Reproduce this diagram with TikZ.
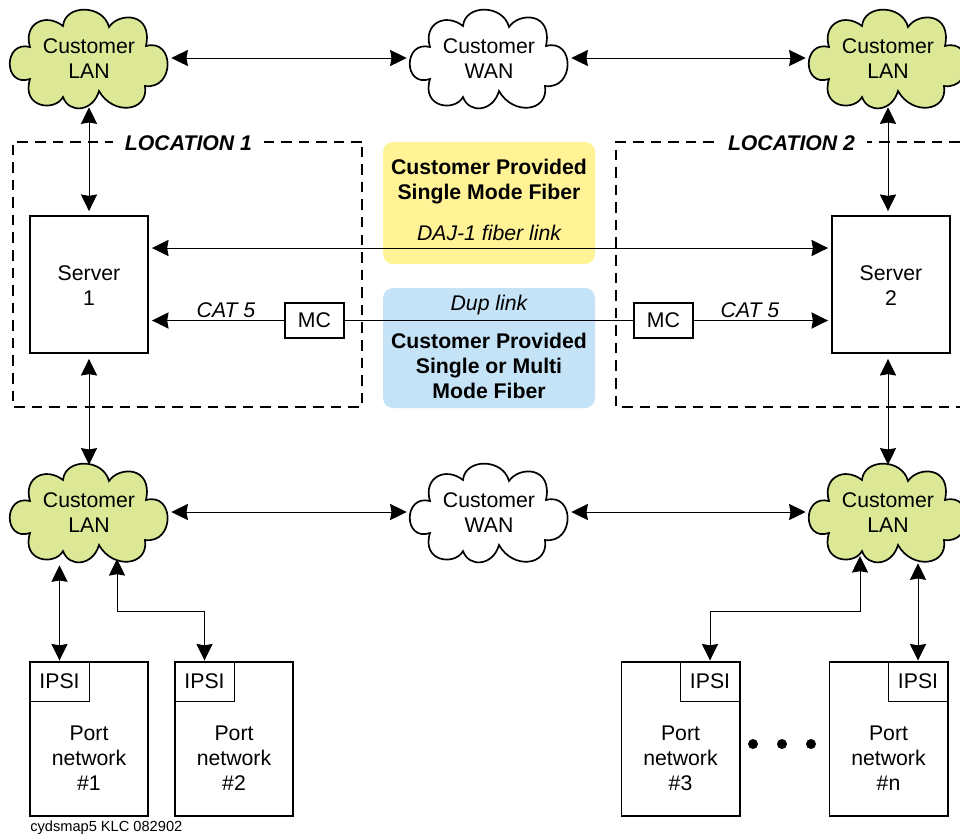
\documentclass[tikz,border=0pt]{standalone}
\usepackage{fontspec}
\setmainfont{Liberation Sans}
\usetikzlibrary{arrows.meta}
\definecolor{clan}{RGB}{220,232,150}
\definecolor{cyel}{RGB}{255,243,150}
\definecolor{cblu}{RGB}{197,227,247}
\newcommand*{\fsz}{\fontsize{15.1}{17.8}\selectfont}
\tikzset{
    >={Stealth[length=11.8pt, width=11.5pt, inset=1pt]},
    txt/.style={align=center, inner sep=0pt, font=\fsz},
    cloudbox/.style={txt, minimum width=4.1cm, minimum height=2.45cm},
    box/.style={txt, draw, line width=1.4pt, fill=white},
    srvbox/.style={box, minimum width=2.95cm, minimum height=3.425cm},
    mcbox/.style={box, minimum width=1.475cm, minimum height=.875cm},
    portbox/.style={box, minimum width=2.95cm, minimum height=3.85cm},
    ipsibox/.style={txt, draw, line width=.7pt, minimum width=1.475cm, minimum height=.975cm},
    fibbox/.style={rounded corners=.25cm},
    loc/.style={dash pattern=on 7.5pt off 5pt, line width=1.4pt},
    loclbl/.style={txt, fill=white, inner xsep=8.5pt, inner ysep=3pt, font=\fsz\bfseries\itshape},
    lk/.style={line width=.7pt}
}
\newcommand*{\cloudnode}[5]{
    \begin{scope}[shift={(#2, #3)}]
        \draw[line width=1.2pt, fill=#4](-26, -32)..controls(-24, -54)and(14, -54)..(20, -31)
            ..controls(30, -46)and(64, -46)..(57, -12)
            ..controls(86, -20)and(86, 32)..(56, 28)
            ..controls(60, 54)and(24, 58)..(10, 33)
            ..controls(4, 54)and(-20, 56)..(-26, 39)
            ..controls(-34, 54)and(-68, 50)..(-59, 21)
            ..controls(-86, 30)and(-86, -18)..(-59, -11)
            ..controls(-66, -34)and(-44, -46)..cycle;
    \end{scope}
    \node[cloudbox](#1)at(#2, #3){};
    \node[txt](#1t)at(#2, #3+.7){#5};
}

\begin{document}
\begin{tikzpicture}[x=.025cm, y=-.025cm]
    \useasboundingbox(0, 0)rectangle(960, 838);
    % fiber panels
    \fill[cyel, fibbox](383, 142)rectangle(595, 264);
    \fill[cblu, fibbox](383, 288)rectangle(595, 408);
    \node[txt, font=\fsz\bfseries](sgl)at(489, 181.5){Customer Provided\\Single Mode Fiber};
    \node[txt, font=\fsz\bfseries](mlt)at(489, 365.5){Customer Provided\\Single or Multi\\Mode Fiber};
    \node[txt, font=\fsz\itshape](daj)at(489, 232.5){DAJ-1 fiber link};
    \node[txt, font=\fsz\itshape](dup)at(489, 305){Dup link};
    % locations
    \draw[loc](362, 142)--(13, 142)--(13, 407)--(362, 407)--cycle;
    \draw[loc](960, 142)--(616, 142)--(616, 407)--(960, 407);
    \node[loclbl](loc1)at(188.5, 143.5){LOCATION 1};
    \node[loclbl](loc2)at(791.5, 143.5){LOCATION 2};
    % clouds
    \cloudnode{lan1}{89}{58}{clan}{Customer\\LAN}
    \cloudnode{wan1}{489}{58}{white}{Customer\\WAN}
    \cloudnode{lan2}{888}{58}{clan}{Customer\\LAN}
    \cloudnode{lan3}{89}{512}{clan}{Customer\\LAN}
    \cloudnode{wan2}{489}{512}{white}{Customer\\WAN}
    \cloudnode{lan4}{888}{512}{clan}{Customer\\LAN}
    % servers
    \node[srvbox](srv1)at(89, 284.5){};
    \node[srvbox](srv2)at(891, 284.5){};
    \node[txt](srvt1)at(89, 285.5){Server\\1};
    \node[txt](srvt2)at(891, 285.5){Server\\2};
    \node[mcbox](mc1)at(314.5, 320.5){MC};
    \node[mcbox](mc2)at(663.5, 320.5){MC};
    \node[txt, font=\fsz\itshape](cat1)at(226, 310){CAT 5};
    \node[txt, font=\fsz\itshape](cat2)at(750, 310){CAT 5};
    % port networks
    \foreach \nm/\x/\ix/\lbl in {1/89/59.5/\#1, 2/234/204.5/\#2, 3/680.5/710/\#3, 4/888.5/918/\#n}{
        \node[portbox](port\nm)at(\x, 739){};
        \node[ipsibox](ipsi\nm)at(\ix, 681.5){IPSI};
        \node[txt](plbl\nm)at(\x, 758){Port\\network\\\lbl};
    }
    \foreach \x in {753, 782, 811}
        \fill(\x, 744)circle(5);
    % links
    \draw[lk, <->](lan1.east)--(wan1.west);
    \draw[lk, <->](wan1.east)--(lan2.west);
    \draw[lk, <->](lan3.east)--(wan2.west);
    \draw[lk, <->](wan2.east)--(lan4.west);
    \draw[lk, <->, shorten >=2.8pt](lan1.south)--(srv1.north);
    \draw[lk, <->, shorten >=2.8pt](lan2.south)--(lan2.south |- srv2.north);
    \draw[lk, <->, shorten <=3.5pt, shorten >=-1.4pt](srv1.south)--(lan3.north);
    \draw[lk, <->, shorten <=3.5pt, shorten >=-1.4pt](lan4.north |- srv2.south)--(lan4.north);
    \coordinate(fib)at(0, 248);
    \draw[lk, <->, shorten <=2.1pt, shorten >=2.1pt](srv1.east |- fib)--(srv2.west |- fib);
    \draw[lk, <-, shorten <=2.1pt](srv1.east |- mc1)--(mc1.west);
    \draw[lk](mc1.east)--(mc2.west);
    \draw[lk, ->, shorten >=2.1pt](mc2.east)--(srv2.west |- mc2);
    \coordinate(tap1)at(117, 559);
    \coordinate(tap3)at(860, 556);
    \coordinate(bnd1)at(160, 611);
    \coordinate(bnd3)at(780, 611);
    \draw[lk, <->, shorten <=2.8pt, shorten >=.7pt](lan3.south -| ipsi1.north)--(ipsi1.north);
    \draw[lk, <->, shorten >=.7pt](tap1)|-(bnd1)-|(ipsi2.north);
    \draw[lk, <->, shorten >=.7pt](tap3)|-(bnd3)-|(ipsi3.north);
    \draw[lk, <->, shorten <=1.4pt, shorten >=.7pt](lan4.south -| ipsi4.north)--(ipsi4.north);
    \node[txt, anchor=west, font=\fontsize{10.4}{12}\selectfont](ftr)at(30, 828){cydsmap5 KLC 082902};
\end{tikzpicture}
\end{document}
